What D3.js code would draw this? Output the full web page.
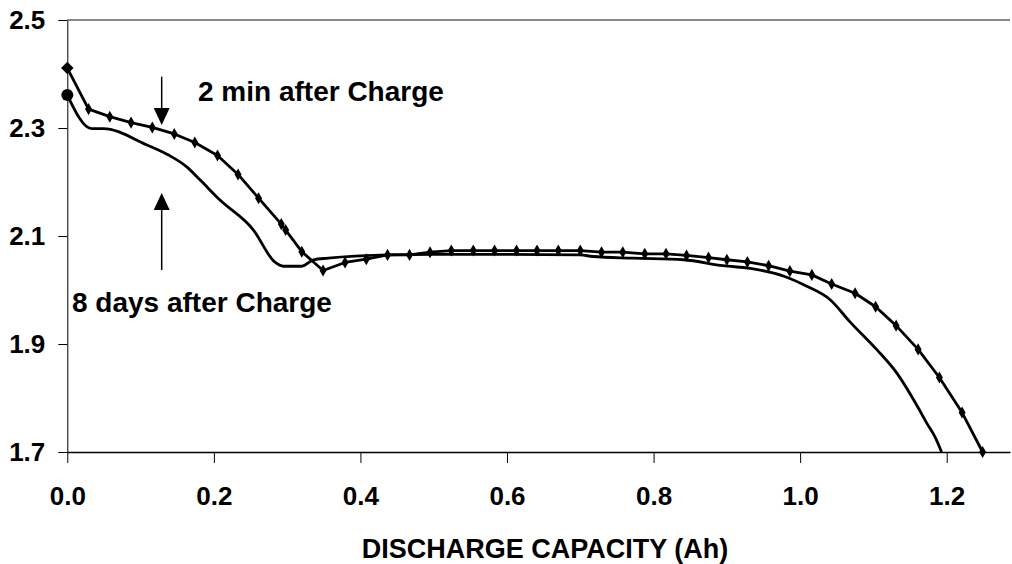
<!DOCTYPE html>
<html>
<head>
<meta charset="utf-8">
<script src="https://cdn.jsdelivr.net/npm/d3@7"></script>
<style>
  body { margin: 0; background: #fff; }
  svg text { font-family: "Liberation Sans", Arial, sans-serif; font-weight: bold; fill: #000; }
</style>
</head>
<body>
<svg id="chart" width="1012" height="564"></svg>
<script>
// 2 min after charge (diamond markers)
const capA = [0.000, 0.029, 0.058, 0.087, 0.116, 0.146, 0.174, 0.205, 0.233, 0.261,
              0.292, 0.298, 0.320, 0.349, 0.379, 0.408, 0.437, 0.467, 0.495, 0.524,
              0.554, 0.583, 0.613, 0.641, 0.670, 0.700, 0.729, 0.758, 0.788, 0.817,
              0.845, 0.875, 0.900, 0.928, 0.957, 0.986, 1.016, 1.043, 1.075, 1.103,
              1.131, 1.161, 1.190, 1.221, 1.249];
const voltA = [2.411, 2.335, 2.321, 2.310, 2.301, 2.289, 2.273, 2.249, 2.214, 2.170,
               2.122, 2.111, 2.071, 2.036, 2.051, 2.057, 2.065, 2.065, 2.070, 2.073,
               2.073, 2.073, 2.073, 2.073, 2.073, 2.073, 2.070, 2.070, 2.067, 2.067,
               2.064, 2.060, 2.056, 2.052, 2.045, 2.035, 2.028, 2.011, 1.994, 1.969,
               1.934, 1.890, 1.838, 1.773, 1.700];

// 8 days after charge (plain line)
const capB = [0.000, 0.033, 0.049, 0.108, 0.138, 0.163, 0.181, 0.208, 0.254,
              0.283, 0.295, 0.320, 0.336, 0.356, 0.436, 0.500, 0.600, 0.700, 0.717,
              0.772, 0.841, 0.895, 0.932, 0.977, 1.009, 1.041, 1.068, 1.105, 1.132,
              1.159, 1.173, 1.184, 1.193];
const voltB = [2.361, 2.299, 2.299, 2.269, 2.250, 2.228, 2.204, 2.167, 2.111,
               2.052, 2.044, 2.044, 2.056, 2.059, 2.065, 2.066, 2.066, 2.065, 2.062,
               2.059, 2.056, 2.045, 2.040, 2.026, 2.007, 1.982, 1.941, 1.889, 1.846,
               1.787, 1.753, 1.728, 1.700];

const xTicks = [0.0, 0.2, 0.4, 0.6, 0.8, 1.0, 1.2];
const yTicks = [1.7, 1.9, 2.1, 2.3, 2.5];

const labelA = "2 min after Charge";
const labelB = "8 days after Charge";

const svg = d3.select("#chart");

const margin = { top: 20, right: 2, bottom: 112, left: 67 };
const width = 1012, height = 564;

const x = d3.scaleLinear()
    .domain([0, 1.2])
    .range([margin.left + 0.3, 946.7]);
const xMax = x.invert(width - margin.right);
x.domain([0, xMax]).range([margin.left + 0.3, width - margin.right]);

const y = d3.scaleLinear()
    .domain([1.7, 2.5])
    .range([height - margin.bottom, margin.top]);

// top border line at 2.5
svg.append("line")
    .attr("x1", x(0)).attr("x2", x(xMax))
    .attr("y1", y(2.5)).attr("y2", y(2.5))
    .attr("stroke", "#888").attr("stroke-width", 2);

const xAxis = g => g
    .attr("transform", `translate(0,${y(1.7)})`)
    .call(d3.axisBottom(x).tickValues(xTicks).tickFormat(d3.format(".1f")).tickSize(11).tickPadding(24).tickSizeOuter(0))
    .call(g => g.select(".domain").attr("stroke", "#000").attr("stroke-width", 1.5))
    .call(g => g.selectAll(".tick line").attr("stroke", "#000"))
    .call(g => g.selectAll(".tick text").attr("font-size", 26).attr("dy", "0.71em"));

const yAxis = g => g
    .attr("transform", `translate(${x(0)},0)`)
    .call(d3.axisLeft(y).tickValues(yTicks).tickFormat(d3.format(".1f")).tickSize(9).tickPadding(13).tickSizeOuter(0))
    .call(g => g.select(".domain").attr("stroke", "#000"))
    .call(g => g.selectAll(".tick line").attr("stroke", "#000"))
    .call(g => g.selectAll(".tick text").attr("font-size", 26).attr("dy", "0.33em"));

svg.append("g").call(xAxis);
svg.append("g").call(yAxis);

svg.append("text")
    .attr("x", 545)
    .attr("y", 558)
    .attr("text-anchor", "middle")
    .attr("font-size", 27)
    .text("DISCHARGE CAPACITY (Ah)");

const ptsA = capA.map((c, i) => [c, voltA[i]]);
const ptsB = capB.map((c, i) => [c, voltB[i]]);

const line = d3.line()
    .x(d => x(d[0]))
    .y(d => y(d[1]));

svg.append("path")
    .datum(ptsB)
    .attr("fill", "none")
    .attr("stroke", "#000")
    .attr("stroke-width", 2.8)
    .attr("stroke-linejoin", "round")
    .attr("d", line.curve(d3.curveMonotoneX));

svg.append("path")
    .datum(ptsA)
    .attr("fill", "none")
    .attr("stroke", "#000")
    .attr("stroke-width", 2.8)
    .attr("stroke-linejoin", "round")
    .attr("d", line.curve(d3.curveLinear));

// diamond markers on the 2 min curve
svg.append("g")
    .selectAll("path")
    .data(ptsA.slice(1))
    .join("path")
    .attr("transform", d => `translate(${x(d[0])},${y(d[1])})`)
    .attr("d", d3.symbol(d3.symbolDiamond, 42))
    .attr("fill", "#000");

// larger first markers
svg.append("path")
    .attr("transform", `translate(${x(ptsA[0][0])},${y(ptsA[0][1])}) rotate(45)`)
    .attr("d", d3.symbol(d3.symbolSquare, 78))
    .attr("fill", "#000");

svg.append("circle")
    .attr("cx", x(ptsB[0][0]))
    .attr("cy", y(ptsB[0][1]))
    .attr("r", 6)
    .attr("fill", "#000");

// annotations
function arrow(cap, from, to) {
    const tipY = y(to);
    const sign = Math.sign(y(to) - y(from)); // +1 = pointing down on screen
    const headLen = 17, headW = 8;
    const baseY = tipY - sign * headLen;
    svg.append("line")
        .attr("x1", x(cap)).attr("x2", x(cap))
        .attr("y1", y(from)).attr("y2", baseY)
        .attr("stroke", "#000").attr("stroke-width", 1.5);
    svg.append("path")
        .attr("d", `M${x(cap)},${tipY}L${x(cap) - headW},${baseY}L${x(cap) + headW},${baseY}Z`)
        .attr("fill", "#000");
}

arrow(0.1288, 2.395, 2.3056);
arrow(0.1288, 2.037, 2.1795);

svg.append("text")
    .attr("x", 198)
    .attr("y", 101)
    .attr("font-size", 28)
    .text(labelA);

svg.append("text")
    .attr("x", 72)
    .attr("y", 312)
    .attr("font-size", 28)
    .text(labelB);
</script>
</body>
</html>
